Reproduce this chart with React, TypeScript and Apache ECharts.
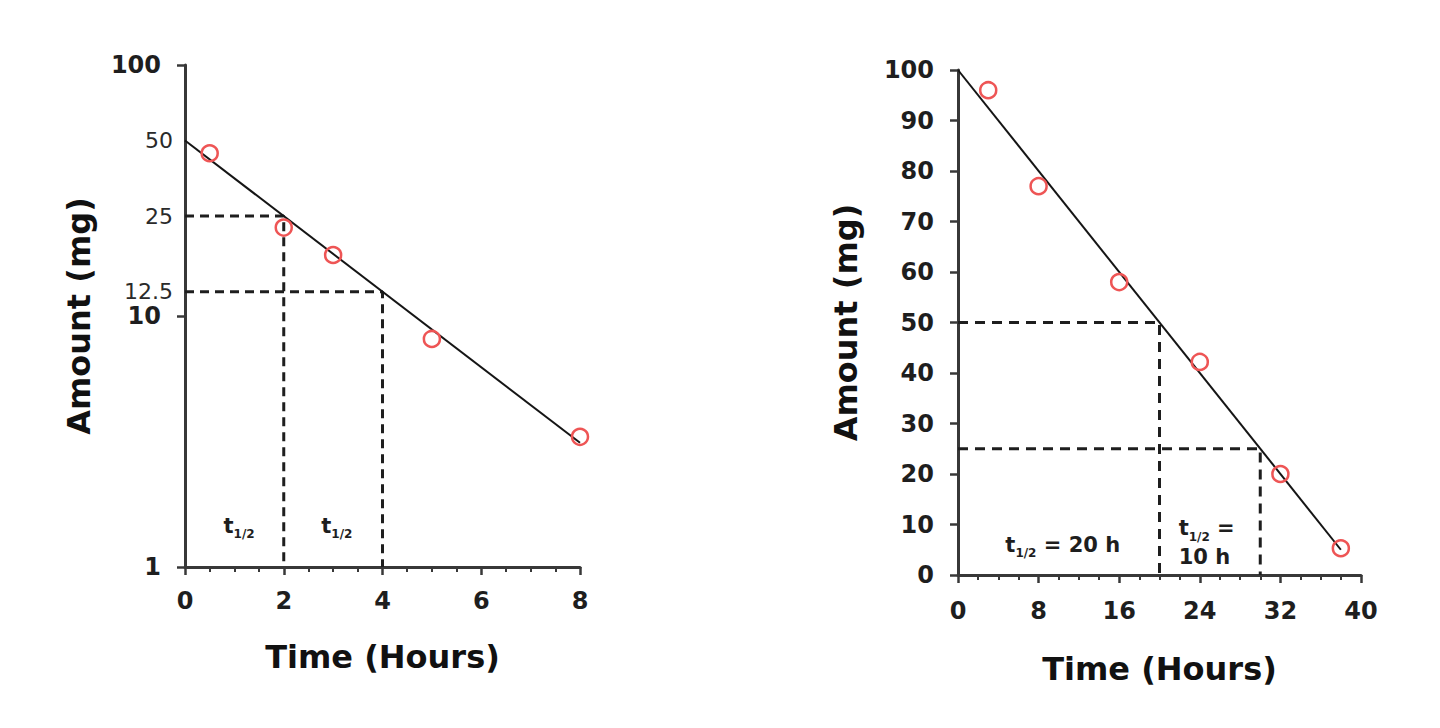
import React, { useEffect, useRef } from "react";
import * as echarts from "echarts";

// ---------- Left panel (semi-log) ----------
const leftTimeH = [0.5, 2, 3, 5, 8];
const leftAmountMg = [44.5, 22.5, 17.5, 8.1, 3.3];
const leftFitTime = [0, 8];
const leftFitAmount = [50, 3.125];
const leftHalfLifeTime = [2, 4];
const leftHalfLifeAmount = [25, 12.5];
const leftGuideLabels = [50, 25, 12.5];
const leftHalfLabelTime = [0.78, 2.76];
const leftHalfLabelAmount = [1.46, 1.46];

// ---------- Right panel (linear) ----------
const rightTimeH = [3, 8, 16, 24, 32, 38];
const rightAmountMg = [96, 77, 58, 42.2, 20, 5.3];
const rightFitTime = [0, 38];
const rightFitAmount = [100, 5];
const rightHalfLifeTime = [20, 30];
const rightHalfLifeAmount = [50, 25];
const rightHalfTexts = ["{t|t}{s|1/2}{t| = 20 h}", "{t|t}{s|1/2}{t| =}\n{t|10 h}"];
const rightHalfLabelTime = [4.7, 21.9];
const rightHalfLabelAmount = [6.0, 6.4];

const FONT = "DejaVu Sans";
const INK = "#1e1e1e";
const AXIS = "#383838";
const RED = "#ee5555";

const richStyles = {
  t: { fontFamily: FONT, fontWeight: "bold", fontSize: 21, color: INK, lineHeight: 29 },
  s: { fontFamily: FONT, fontWeight: "bold", fontSize: 12, color: INK, lineHeight: 29, verticalAlign: "bottom" },
};

function axisCommon() {
  return {
    axisLine: { show: true, lineStyle: { color: AXIS, width: 3 } },
    axisTick: { show: true, inside: false, length: 8, lineStyle: { color: AXIS, width: 2.5 } },
    splitLine: { show: false },
    axisLabel: { fontFamily: FONT, fontWeight: "bold", fontSize: 24, color: INK },
    nameTextStyle: { fontFamily: FONT, fontWeight: "bold", fontSize: 32, color: "#111" },
  };
}

function dashPath(times: number[], amounts: number[], floor: number) {
  return times.map((t, i) => [
    [0, amounts[i]],
    [t, amounts[i]],
    [t, floor],
  ]);
}

export default function App() {
  const ref = useRef<HTMLDivElement>(null);
  useEffect(() => {
    if (!ref.current) return;
    const chart = echarts.init(ref.current, null, { renderer: "svg" });
    const c = axisCommon();

    const leftDashes = dashPath(leftHalfLifeTime, leftHalfLifeAmount, 1);
    const rightDashes = dashPath(rightHalfLifeTime, rightHalfLifeAmount, 0);

    const series: any[] = [];
    leftDashes.forEach((d) =>
      series.push({
        type: "line", xAxisIndex: 0, yAxisIndex: 0, data: d, symbol: "none", z: 2,
        lineStyle: { color: INK, width: 3, type: [9, 6] },
      })
    );
    rightDashes.forEach((d) =>
      series.push({
        type: "line", xAxisIndex: 1, yAxisIndex: 1, data: d, symbol: "none", z: 2,
        lineStyle: { color: INK, width: 3, type: [10, 7] },
      })
    );
    series.push({
      type: "line", xAxisIndex: 0, yAxisIndex: 0, symbol: "none", z: 3,
      data: leftFitTime.map((t, i) => [t, leftFitAmount[i]]),
      lineStyle: { color: "#151515", width: 2 },
    });
    series.push({
      type: "line", xAxisIndex: 1, yAxisIndex: 1, symbol: "none", z: 3,
      data: rightFitTime.map((t, i) => [t, rightFitAmount[i]]),
      lineStyle: { color: "#151515", width: 2 },
    });
    series.push({
      type: "scatter", xAxisIndex: 0, yAxisIndex: 0, symbol: "circle", symbolSize: 16, z: 5,
      data: leftTimeH.map((t, i) => [t, leftAmountMg[i]]),
      itemStyle: { color: "rgba(0,0,0,0)", borderColor: RED, borderWidth: 2.5, opacity: 1 },
    });
    series.push({
      type: "scatter", xAxisIndex: 1, yAxisIndex: 1, symbol: "circle", symbolSize: 16, z: 5,
      data: rightTimeH.map((t, i) => [t, rightAmountMg[i]]),
      itemStyle: { color: "rgba(0,0,0,0)", borderColor: RED, borderWidth: 2.5, opacity: 1 },
    });
    // guide value labels on the log axis
    series.push({
      type: "scatter", xAxisIndex: 0, yAxisIndex: 0, symbolSize: 0, z: 6, silent: true,
      itemStyle: { opacity: 1 },
      data: leftGuideLabels.map((v) => [0, v]),
      label: {
        show: true, position: "left", distance: 12,
        formatter: (p: any) => String(p.value[1]),
        fontFamily: FONT, fontSize: 22, fontWeight: "normal", color: "#2a2a2a",
      },
    });
    // half-life annotations (left)
    series.push({
      type: "scatter", xAxisIndex: 0, yAxisIndex: 0, symbolSize: 0, z: 6, silent: true,
      itemStyle: { opacity: 1 },
      data: leftHalfLabelTime.map((t, i) => [t, leftHalfLabelAmount[i]]),
      label: {
        show: true, position: [0, 0], align: "left", verticalAlign: "middle", color: INK,
        formatter: "{t|t}{s|1/2}", rich: richStyles,
      },
    });
    // half-life annotations (right)
    series.push({
      type: "scatter", xAxisIndex: 1, yAxisIndex: 1, symbolSize: 0, z: 6, silent: true,
      itemStyle: { opacity: 1 },
      data: rightHalfLabelTime.map((t, i) => [t, rightHalfLabelAmount[i]]),
      label: {
        show: true, position: [0, 0], align: "left", verticalAlign: "middle", color: INK,
        formatter: (p: any) => rightHalfTexts[p.dataIndex], rich: richStyles,
      },
    });

    chart.setOption({
      animation: false,
      backgroundColor: "#fff",
      grid: [
        { left: 185, top: 65, width: 395, height: 502 },
        { left: 958, top: 70, width: 403, height: 505 },
      ],
      xAxis: [
        {
          ...c, gridIndex: 0, type: "value", min: 0, max: 8, interval: 2,
          minorTick: { show: true, splitNumber: 4, length: 5, lineStyle: { color: AXIS, width: 2 } },
          axisLabel: { ...c.axisLabel, margin: 22 },
          name: "Time (Hours)", nameLocation: "middle", nameGap: 74,
        },
        {
          ...c, gridIndex: 1, type: "value", min: 0, max: 40, interval: 8,
          minorTick: { show: true, splitNumber: 4, length: 5, lineStyle: { color: AXIS, width: 2 } },
          axisLabel: { ...c.axisLabel, margin: 24 },
          name: "Time (Hours)", nameLocation: "middle", nameGap: 78,
        },
      ],
      yAxis: [
        {
          ...c, gridIndex: 0, type: "log", logBase: 10, min: 1, max: 100,
          axisLabel: { ...c.axisLabel, margin: 24 },
          name: "Amount (mg)", nameLocation: "middle", nameGap: 90,
        },
        {
          ...c, gridIndex: 1, type: "value", min: 0, max: 100, interval: 10,
          axisLabel: { ...c.axisLabel, margin: 24 },
          name: "Amount (mg)", nameLocation: "middle", nameGap: 96,
        },
      ],
      series,
    });
    return () => chart.dispose();
  }, []);
  return (
    <div
      ref={ref}
      style={{ position: "absolute", left: 0, top: 0, width: 1440, height: 728, background: "#fff" }}
    />
  );
}
